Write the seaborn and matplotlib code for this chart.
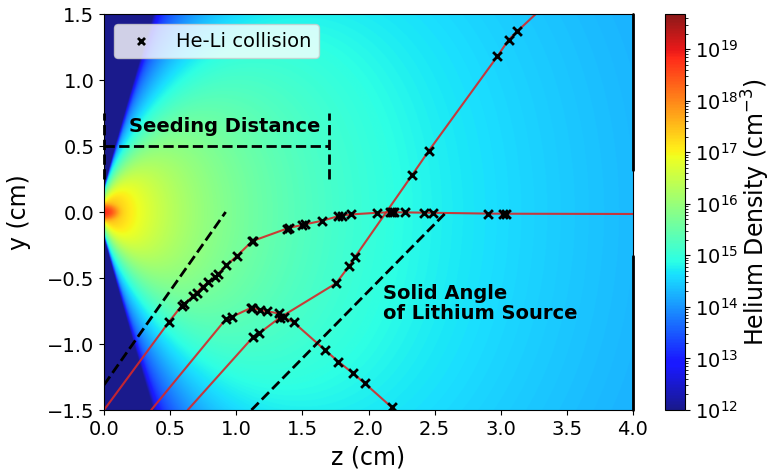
import numpy as np
import pandas as pd
import matplotlib
matplotlib.use("Agg")
import matplotlib.pyplot as plt
import seaborn as sns
from matplotlib.colors import LogNorm

# ---------------- data ----------------
# Trajectory A (ends up along the axis)
traj_a_start = (0.0, -1.5)
traj_a_end = (4.0, -0.015)
coll_a_z = [0.493, 0.587, 0.605, 0.671, 0.700, 0.747, 0.790, 0.842, 0.860, 0.925,
            1.003, 1.120, 1.128, 1.385, 1.400, 1.500, 1.518, 1.650, 1.768, 1.798,
            1.870, 2.066, 2.163, 2.175, 2.194, 2.278, 2.416, 2.487, 2.900, 3.020, 3.036]
coll_a_y = [-0.830, -0.710, -0.697, -0.640, -0.610, -0.565, -0.530, -0.490, -0.470, -0.405,
            -0.335, -0.222, -0.218, -0.125, -0.120, -0.098, -0.094, -0.066, -0.033, -0.028,
            -0.018, -0.006, -0.002, -0.002, -0.002, -0.003, -0.005, -0.006, -0.012, -0.013, -0.013]

# Trajectory B (crosses to the upper right)
traj_b_start = (0.633, -1.5)
traj_b_end = (3.265, 1.5)
coll_b_z = [1.130, 1.173, 1.330, 1.755, 1.855, 1.900, 2.330, 2.457, 2.975, 3.060, 3.125]
coll_b_y = [-0.944, -0.919, -0.800, -0.540, -0.407, -0.338, 0.280, 0.465, 1.180, 1.305, 1.369]

# Trajectory C (arc going back down)
traj_c_start = (0.357, -1.5)
traj_c_end = (2.200, -1.5)
coll_c_z = [0.923, 0.970, 1.110, 1.122, 1.180, 1.230, 1.320, 1.360, 1.434, 1.670,
            1.773, 1.880, 1.972, 2.176]
coll_c_y = [-0.810, -0.793, -0.727, -0.730, -0.742, -0.752, -0.768, -0.797, -0.836, -1.045,
            -1.134, -1.220, -1.298, -1.480]

# Dashed guide lines
cone_inner_z = [0.0, 0.92]
cone_inner_y = [-1.31, 0.0]
cone_outer_z = [1.115, 2.59]
cone_outer_y = [-1.5, 0.0]
seed_h_z = [0.0, 1.704]
seed_h_y = [0.5, 0.5]
seed_v_y = [0.25, 0.75]
seed_v_z = [0.0, 1.704]
right_edge_z = 4.0
right_edge_segments = [(0.32, 1.5), (-1.5, -0.33)]

# Helium density field parameters (free-jet model of the background map)
log_n_scale = 15.7       # log10 density scale of the expanding jet
radial_power = 1.15      # n ~ 1/(r^2 + a^2)^p
core_radius = 0.15       # cm
nozzle_peak = 6.0e18     # extra density right at the nozzle exit
nozzle_sigma_z = 0.06
nozzle_sigma_y = 0.035
source_offset = 0.05     # cm, virtual source behind the nozzle
angle_ref_deg = 37.0
angle_drop_ref = 0.072   # decades of drop at angle_ref
angle_exponent = 5.0
edge_angle_deg = 75.5    # sharp edge of the jet
edge_width_deg = 0.9
edge_drop = 4.5
n_min, n_max = 1e12, 4.8e19

# ---------------- figure ----------------
sns.set_style("ticks")
plt.rcParams["font.family"] = ["DejaVu Sans"]
plt.rcParams["axes.edgecolor"] = "black"
plt.rcParams["xtick.color"] = "black"
plt.rcParams["ytick.color"] = "black"
plt.rcParams["text.color"] = "black"
plt.rcParams["axes.labelcolor"] = "black"

fig = plt.figure(figsize=(7.73, 4.75), dpi=100)
W, H = 773, 475
ax = fig.add_axes([104 / W, 1 - 410 / H, 529 / W, 396 / H])
cax = fig.add_axes([665 / W, 1 - 410 / H, 20 / W, 396 / H])

# density map
zz = np.linspace(0, 4, 900)
yy = np.linspace(-1.5, 1.5, 700)
Z, Y = np.meshgrid(zz, yy)
r2 = Z ** 2 + Y ** 2
theta = np.degrees(np.arctan2(np.abs(Y), Z + source_offset))
logn = (log_n_scale - radial_power * np.log10(r2 + core_radius ** 2)
        - angle_drop_ref * (theta / angle_ref_deg) ** angle_exponent
        - edge_drop / (1 + np.exp(-(theta - edge_angle_deg) / edge_width_deg)))
dens = 10 ** logn + nozzle_peak * np.exp(-(Z / nozzle_sigma_z) ** 2
                                         - (Y / nozzle_sigma_y) ** 2)
dens = np.clip(dens, n_min, n_max)
im = ax.imshow(dens, extent=[0, 4, -1.5, 1.5], origin="lower", aspect="auto",
               cmap="jet", norm=LogNorm(vmin=n_min, vmax=n_max), alpha=0.9,
               interpolation="bilinear")

# trajectories
rows = []
for name, start, zs, ys, end in [("A", traj_a_start, coll_a_z, coll_a_y, traj_a_end),
                                  ("B", traj_b_start, coll_b_z, coll_b_y, traj_b_end),
                                  ("C", traj_c_start, coll_c_z, coll_c_y, traj_c_end)]:
    pts = [start] + list(zip(zs, ys)) + [end]
    for i, (z, y) in enumerate(pts):
        rows.append({"traj": name, "order": i, "z": z, "y": y})
paths = pd.DataFrame(rows)
sns.lineplot(data=paths, x="z", y="y", units="traj", estimator=None, sort=False,
             color="#d62728", linewidth=1.5, alpha=0.9, ax=ax, legend=False)

coll = pd.DataFrame({"z": coll_a_z + coll_b_z + coll_c_z,
                     "y": coll_a_y + coll_b_y + coll_c_y})
sns.scatterplot(data=coll, x="z", y="y", marker="x", color="black", s=40,
                linewidth=2, ax=ax, label="He-Li collision", zorder=5)

# dashed guides
dkw = dict(color="black", linestyle="--", linewidth=2)
ax.plot(cone_inner_z, cone_inner_y, **dkw)
ax.plot(cone_outer_z, cone_outer_y, **dkw)
ax.plot(seed_h_z, seed_h_y, **dkw)
for zv in seed_v_z:
    ax.plot([zv, zv], seed_v_y, clip_on=False, **dkw)
for y0, y1 in right_edge_segments:
    ax.plot([right_edge_z, right_edge_z], [y0, y1], color="black", linewidth=2,
            clip_on=False)

ax.text(0.915, 0.645, "Seeding Distance", fontsize=14, fontweight="bold",
        ha="center", va="center")
ax.text(2.112, -0.545, "Solid Angle\nof Lithium Source", fontsize=14,
        fontweight="bold", ha="left", va="top", linespacing=1.1)

ax.set_xlim(0, 4)
ax.set_ylim(-1.5, 1.5)
ax.set_xticks(np.arange(0, 4.01, 0.5))
ax.set_yticks(np.arange(-1.5, 1.51, 0.5))
ax.tick_params(labelsize=14)
ax.set_xlabel("z (cm)", fontsize=17, labelpad=5)
ax.set_ylabel("y (cm)", fontsize=17, labelpad=11)
ax.legend(loc="upper left", fontsize=14, markerscale=0.8)

cb = fig.colorbar(im, cax=cax)
cb.ax.tick_params(labelsize=14)
cb.set_label("Helium Density (cm$^{-3}$)", fontsize=17, labelpad=1)

fig.savefig("out.png", dpi=100)
